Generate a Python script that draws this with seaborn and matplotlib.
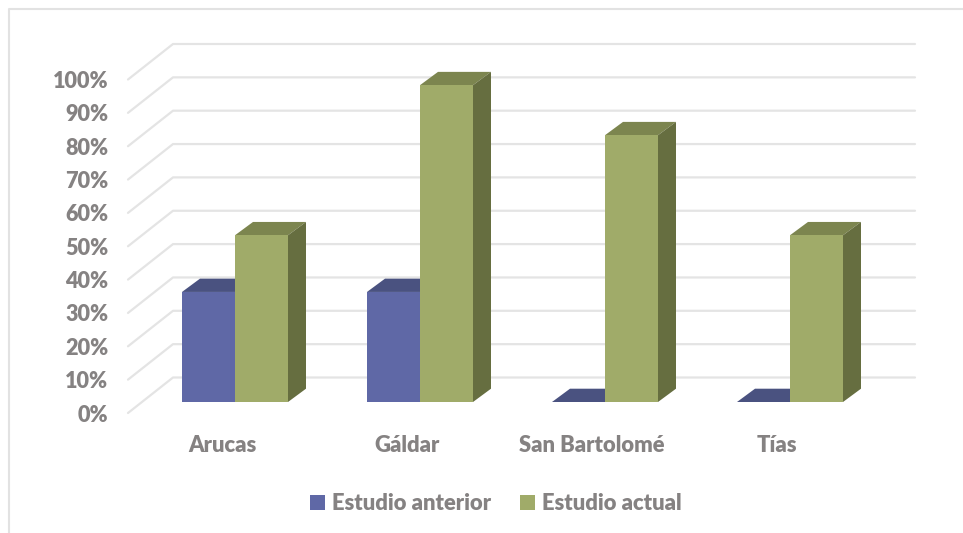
import matplotlib
matplotlib.use("Agg")
import matplotlib.pyplot as plt
import pandas as pd
import seaborn as sns
from matplotlib.lines import Line2D
from matplotlib.patches import Polygon, Patch

municipios = ["Arucas", "Gáldar", "San Bartolomé", "Tías"]
estudio_anterior = [33, 33, 0, 0]
estudio_actual = [50, 95, 80, 50]
series_names = ["Estudio anterior", "Estudio actual"]
grid_values = list(range(0, 101, 10))

BLUE, BLUE_TOP = "#5F68A6", "#4A5280"
GREEN, GREEN_TOP, GREEN_SIDE = "#A0AB69", "#7C854F", "#666E40"
TEXT = "#858282"
GRID = "#E4E4E4"

W, H = 963, 533
sns.set_theme(style="white")
plt.rcParams["font.family"] = ["Lato", "DejaVu Sans"]
plt.rcParams["font.weight"] = "heavy"

fig = plt.figure(figsize=(W / 100, H / 100), dpi=100, facecolor="white")
ax = fig.add_axes([142.5 / W, (H - 413) / H, 740 / W, 344.5 / H])

df = pd.DataFrame({
    "municipio": municipios * 2,
    "estudio": [series_names[0]] * 4 + [series_names[1]] * 4,
    "valor": estudio_anterior + estudio_actual,
})
sns.barplot(data=df, x="municipio", y="valor", hue="estudio", order=municipios,
            hue_order=series_names, palette=[BLUE, GREEN], saturation=1,
            width=106 / 185, gap=0, dodge=True, legend=False, ax=ax, zorder=4,
            linewidth=0, edgecolor="none")

ax.patch.set_alpha(0)
for s in ax.spines.values():
    s.set_visible(False)
ax.set_xlabel("")
ax.set_ylabel("")

# pseudo-3D depth, in data units
DX, DY = 18 / 185, 13.3 / 3.335
for i, p in enumerate(list(ax.patches)[:8]):
    x, w, h = p.get_x(), p.get_width(), p.get_height()
    is_blue = i < 4
    top = BLUE_TOP if is_blue else GREEN_TOP
    ax.add_patch(Polygon([(x, h), (x + w, h), (x + w + DX, h + DY), (x + DX, h + DY)],
                         closed=True, fc=top, ec="none", zorder=3, clip_on=False))
    if h > 0 and not is_blue:
        ax.add_patch(Polygon([(x + w, 0), (x + w + DX, DY), (x + w + DX, h + DY), (x + w, h)],
                             closed=True, fc=GREEN_SIDE, ec="none", zorder=3, clip_on=False))

# walls: floor-front to back, then along the back wall
x_front, x_back, x_end = (128 - 235) / 185, (173 - 235) / 185, (915 - 235) / 185
y_front, y_back = -11 / 3.335, 24.5 / 3.335
for v in grid_values:
    ax.add_line(Line2D([x_front, x_back, x_end], [v + y_front, v + y_back, v + y_back],
                       color=GRID, lw=1.6, zorder=1, clip_on=False))

ax.set_yticks([v + y_front for v in grid_values], [f"{v}%" for v in grid_values])
ax.set_xticks([i - 13 / 185 for i in range(len(municipios))], municipios)
ax.tick_params(axis="y", length=0, pad=24.5, labelsize=15.6, labelcolor=TEXT)
ax.tick_params(axis="x", length=0, pad=15.5, labelsize=15.8, labelcolor=TEXT)
ax.set_xlim(-0.5, 3.5)
ax.set_ylim(y_front, 100)

handles = [Patch(fc=BLUE, ec="none"), Patch(fc=GREEN, ec="none")]
fig.legend(handles, series_names, ncol=2, frameon=False, loc="center",
           bbox_to_anchor=(495.5 / W, (H - 503.5) / H), fontsize=15.8, labelcolor=TEXT,
           handlelength=0.68, handleheight=0.68, handletextpad=0.32, columnspacing=1.33,
           borderpad=0, borderaxespad=0)

# chart frame
fig.add_artist(Line2D([8.5 / W, 8.5 / W, 1], [0, (H - 8.5) / H, (H - 8.5) / H],
                      color="#E2E2E2", lw=1.5, transform=fig.transFigure))

fig.savefig("out.png", dpi=100)
